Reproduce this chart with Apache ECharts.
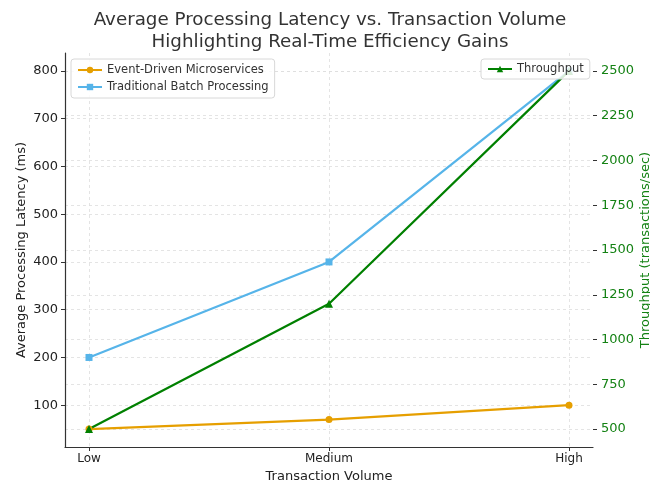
<!DOCTYPE html>
<html>
<head>
<meta charset="utf-8">
<script src="https://cdn.jsdelivr.net/npm/echarts@6/dist/echarts.min.js"></script>
<style>html,body{margin:0;padding:0;background:#fff}#c{width:650px;height:480px}</style>
</head>
<body>
<div id="c"></div>
<script>
var categories = ['Low', 'Medium', 'High'];
var eventDriven = [50, 70, 100];
var batch = [200, 400, 800];
var throughput = [500, 1200, 2500];
var latencyTicks = [100, 200, 300, 400, 500, 600, 700, 800];
var throughputTicks = [500, 750, 1000, 1250, 1500, 1750, 2000, 2250, 2500];

var FONT = 'DejaVu Sans';
var GREEN = '#148214';
function pts(arr) { return arr.map(function (v, i) { return [i, v]; }); }
var catIdx = categories.map(function (c, i) { return i; });

var chart = echarts.init(document.getElementById('c'), null, {renderer: 'canvas'});
chart.setOption({
  animation: false,
  backgroundColor: '#fff',
  textStyle: {fontFamily: FONT},
  title: {
    text: 'Average Processing Latency vs. Transaction Volume\nHighlighting Real-Time Efficiency Gains',
    left: 325, top: 4, textAlign: 'center',
    textStyle: {fontFamily: FONT, fontSize: 18.3, fontWeight: 'normal', color: '#333', lineHeight: 22}
  },
  grid: {left: 65, right: 57, top: 53, bottom: 33, containLabel: false, outerBoundsMode: 'none'},
  legend: [
    {
      data: ['Event-Driven Microservices', 'Traditional Batch Processing'],
      orient: 'vertical', left: 71, top: 59, itemGap: 5, itemWidth: 24, itemHeight: 8,
      padding: [5, 6, 5, 6],
      backgroundColor: 'rgba(255,255,255,0.85)', borderColor: '#d8d8d8', borderWidth: 1, borderRadius: 3,
      textStyle: {fontFamily: FONT, fontSize: 11.5, color: '#333'}
    },
    {
      data: ['Throughput'],
      orient: 'vertical', left: 481, top: 59, itemWidth: 24, itemHeight: 8,
      padding: [4, 6, 4, 6],
      backgroundColor: 'rgba(255,255,255,0.85)', borderColor: '#d8d8d8', borderWidth: 1, borderRadius: 3,
      textStyle: {fontFamily: FONT, fontSize: 11.5, color: '#333'}
    }
  ],
  xAxis: {
    type: 'value', min: -0.1, max: 2.1,
    name: 'Transaction Volume', nameLocation: 'middle', nameGap: 23,
    nameTextStyle: {fontFamily: FONT, fontSize: 13, color: '#222'},
    axisLine: {show: true, onZero: false, lineStyle: {color: '#333', width: 1.2}},
    axisTick: {show: true, length: 4, customValues: catIdx, lineStyle: {color: '#333'}},
    axisLabel: {customValues: catIdx, fontFamily: FONT, fontSize: 12, color: '#222', margin: 6,
      formatter: function (v) { return categories[Math.round(v)] || ''; }},
    splitLine: {show: true, lineStyle: {color: '#ddd', type: [3, 3], width: 0.8}}
  },
  yAxis: [
    {
      type: 'value', min: 12.5, max: 837.5, position: 'left',
      name: 'Average Processing Latency (ms)', nameLocation: 'middle', nameGap: 37, nameMoveOverlap: false,
      nameTextStyle: {fontFamily: FONT, fontSize: 13, color: '#222'},
      axisLine: {show: true, onZero: false, lineStyle: {color: '#333', width: 1.2}},
      axisTick: {show: true, length: 4, customValues: latencyTicks, lineStyle: {color: '#333'}},
      axisLabel: {customValues: latencyTicks, fontFamily: FONT, fontSize: 13, color: '#222', margin: 7,
        formatter: function (v) { return String(v); }},
      splitLine: {show: true, lineStyle: {color: '#ddd', type: [3, 3], width: 0.8}}
    },
    {
      type: 'value', min: 400, max: 2600, position: 'right',
      name: 'Throughput (transactions/sec)', nameLocation: 'middle', nameGap: 46, nameRotate: 90, nameMoveOverlap: false,
      nameTextStyle: {fontFamily: FONT, fontSize: 13, color: GREEN},
      axisLine: {show: false, onZero: false},
      axisTick: {show: true, length: 4, customValues: throughputTicks, lineStyle: {color: '#333'}},
      axisLabel: {customValues: throughputTicks, fontFamily: FONT, fontSize: 13, color: GREEN, margin: 8,
        formatter: function (v) { return String(v); }},
      splitLine: {show: true, lineStyle: {color: '#ddd', type: [3, 3], width: 0.8}}
    }
  ],
  series: [
    {
      name: 'Event-Driven Microservices', type: 'line', yAxisIndex: 0,
      data: pts(eventDriven), symbol: 'circle', symbolSize: 7,
      lineStyle: {color: '#E69F00', width: 2.2}, itemStyle: {color: '#E69F00'}
    },
    {
      name: 'Traditional Batch Processing', type: 'line', yAxisIndex: 0,
      data: pts(batch), symbol: 'rect', symbolSize: 7,
      lineStyle: {color: '#56B4E9', width: 2.2}, itemStyle: {color: '#56B4E9'}
    },
    {
      name: 'Throughput', type: 'line', yAxisIndex: 1,
      data: pts(throughput), symbol: 'triangle', symbolSize: 8,
      lineStyle: {color: '#008000', width: 2.2}, itemStyle: {color: '#008000'}
    }
  ]
});
</script>
</body>
</html>
